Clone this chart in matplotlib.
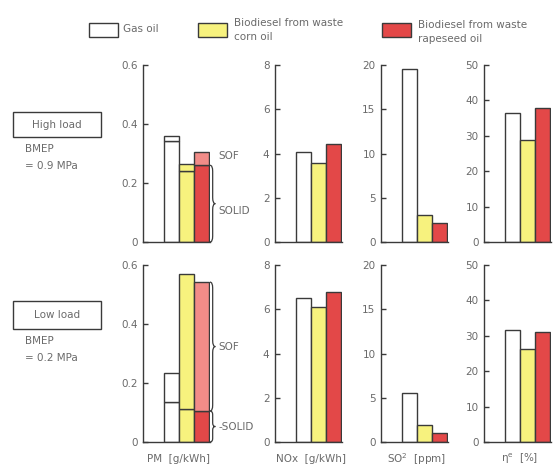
import matplotlib
matplotlib.use("Agg")
import matplotlib.pyplot as plt
from matplotlib.patches import Rectangle, PathPatch
from matplotlib.path import Path
import matplotlib.transforms as mtransforms

# Data
fuels = ["Gas oil", "Biodiesel from waste\ncorn oil", "Biodiesel from waste\nrapeseed oil"]

pm_high_total = [0.358, 0.266, 0.305]
pm_high_solid = [0.341, 0.240, 0.260]
pm_low_total = [0.234, 0.570, 0.542]
pm_low_solid = [0.135, 0.113, 0.105]

nox_high = [4.08, 3.58, 4.43]
nox_low = [6.49, 6.08, 6.80]
so2_high = [19.5, 3.0, 2.1]
so2_low = [5.5, 1.95, 1.0]
eta_high = [36.3, 28.8, 37.8]
eta_low = [31.6, 26.3, 31.2]

pm_ticks = [0, 0.2, 0.4, 0.6]
nox_ticks = [0, 2, 4, 6, 8]
so2_ticks = [0, 5, 10, 15, 20]
eta_ticks = [0, 10, 20, 30, 40, 50]

bottom_labels = ["PM  [g/kWh]", "NOx  [g/kWh]", "SO$^{2}$  [ppm]", "η$^{\\rm e}$  [%]"]

# Styling
W, H = 553, 467
fill_colors = ["#ffffff", "#f7f27e", "#e34848"]
sof_colors = ["#ffffff", "#f7f27e", "#f28c88"]
edge = "#3a3a3a"
txt = "#6a6a6a"
fs = 7.5


def fx(x):
    return x / W


def fy(y):
    return 1 - y / H


fig = plt.figure(figsize=(W / 100, H / 100), dpi=100)
fig.patch.set_facecolor("white")

col_left = [143, 275, 381, 484]
ax_w = 67
rows = [(65, 242), (265, 442)]


def style_axis(ax, ticks):
    for s in ["top", "right"]:
        ax.spines[s].set_visible(False)
    for s in ["left", "bottom"]:
        ax.spines[s].set_color(edge)
        ax.spines[s].set_linewidth(1.0)
    ax.set_xticks([])
    ax.set_yticks(ticks)
    ax.set_yticklabels([("%g" % t) for t in ticks])
    ax.tick_params(axis="y", direction="in", length=3.5, width=1, color=edge,
                   labelsize=fs, labelcolor=txt, pad=4)
    ax.set_ylim(0, ticks[-1])
    ax.set_xlim(-1.4, 3.05)
    ax.patch.set_alpha(0)


def make_ax(col, row):
    top, bot = rows[row]
    left = col_left[col]
    return fig.add_axes([fx(left), fy(bot), fx(ax_w), (bot - top) / H])


def brace(ax, y0, y1, xa=1.0, w=0.08, r=None):
    if r is None:
        r = (y1 - y0) * 0.12
    ym = (y0 + y1) / 2
    xm = xa + w / 2
    verts = [(xa, y1), (xm, y1), (xm, y1 - r), (xm, ym + r),
             (xm, ym), (xa + w, ym), (xm, ym), (xm, ym - r),
             (xm, y0 + r), (xm, y0), (xa, y0)]
    codes = [Path.MOVETO, Path.CURVE3, Path.CURVE3, Path.LINETO,
             Path.CURVE3, Path.CURVE3, Path.CURVE3, Path.CURVE3,
             Path.LINETO, Path.CURVE3, Path.CURVE3]
    trans = mtransforms.blended_transform_factory(ax.transAxes, ax.transData)
    ax.add_patch(PathPatch(Path(verts, codes), fill=False, edgecolor=edge,
                           lw=0.9, transform=trans, clip_on=False))
    return ym


x = [0, 1, 2]

# PM panels (stacked solid + SOF)
for row, (tot, sol) in enumerate([(pm_high_total, pm_high_solid),
                                  (pm_low_total, pm_low_solid)]):
    ax = make_ax(0, row)
    style_axis(ax, pm_ticks)
    sof = [t - s for t, s in zip(tot, sol)]
    ax.bar(x, sol, width=1, align="edge", color=fill_colors, edgecolor=edge, lw=1)
    ax.bar(x, sof, bottom=sol, width=1, align="edge", color=sof_colors,
           edgecolor=edge, lw=1)
    trans = mtransforms.blended_transform_factory(ax.transAxes, ax.transData)
    if row == 0:
        ym = brace(ax, 0, sol[2], r=0.02)
        ax.text(1.12, ym * 0.95, "SOLID", transform=trans, fontsize=fs,
                color=txt, va="top", ha="left", clip_on=False)
        ax.text(1.12, tot[2] - 0.012, "SOF", transform=trans, fontsize=fs,
                color=txt, va="center", ha="left", clip_on=False)
    else:
        ym = brace(ax, sol[2], tot[2], r=0.02)
        ax.text(1.13, ym, "SOF", transform=trans, fontsize=fs, color=txt,
                va="center", ha="left", clip_on=False)
        ym2 = brace(ax, 0, sol[2], r=0.012)
        ax.text(1.13, ym2, "-SOLID", transform=trans, fontsize=fs, color=txt,
                va="center", ha="left", clip_on=False)

# other panels
for col, (vals, ticks) in enumerate([((nox_high, nox_low), nox_ticks),
                                     ((so2_high, so2_low), so2_ticks),
                                     ((eta_high, eta_low), eta_ticks)], start=1):
    for row in range(2):
        ax = make_ax(col, row)
        style_axis(ax, ticks)
        ax.bar(x, vals[row], width=1, align="edge", color=fill_colors,
               edgecolor=edge, lw=1)

# labels under bottom row
for left, lab in zip(col_left, bottom_labels):
    fig.text(fx(left + ax_w / 2 + 2), fy(459), lab, ha="center", va="center",
             fontsize=fs, color=txt)

# legend
leg_boxes = [(89, 23), (198, 23), (382, 23)]
leg_text = [(123, 29), (234, 30), (418, 32)]
for (bx, by), (tx, ty), c, name in zip(leg_boxes, leg_text, fill_colors, fuels):
    fig.add_artist(Rectangle((fx(bx), fy(by + 14)), fx(29), 14 / H,
                             facecolor=c, edgecolor=edge, lw=1,
                             transform=fig.transFigure))
    fig.text(fx(tx), fy(ty), name, ha="left", va="center", fontsize=fs,
             color=txt, linespacing=1.5)

# load condition boxes
for (top, bot), load, bmep in zip([(112, 137), (301, 329)],
                                  ["High load", "Low load"],
                                  ["= 0.9 MPa", "= 0.2 MPa"]):
    fig.add_artist(Rectangle((fx(13), fy(bot)), fx(88), (bot - top) / H,
                             facecolor="none", edgecolor=edge, lw=1,
                             transform=fig.transFigure))
    fig.text(fx(57), fy((top + bot) / 2), load, ha="center", va="center",
             fontsize=fs, color=txt)
    fig.text(fx(25), fy(bot + 12), "BMEP", ha="left", va="center",
             fontsize=fs, color=txt)
    fig.text(fx(25), fy(bot + 29), bmep, ha="left", va="center",
             fontsize=fs, color=txt)

fig.savefig("out.png", dpi=100, facecolor="white")
